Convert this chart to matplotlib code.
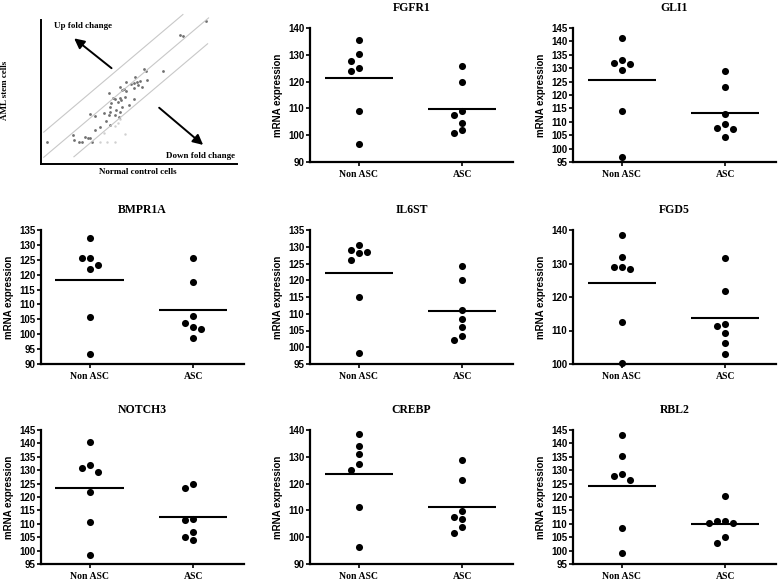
import numpy as np
import matplotlib
matplotlib.use("Agg")
import matplotlib.pyplot as plt

plt.rcParams['font.family'] = ['Liberation Sans', 'DejaVu Sans']

# ---- schematic panel (top-left) ----
normal_x = [3.1, 16.3, 16.7, 19.2, 20.9, 22.3, 23.8, 25.2, 26.0, 24.8, 27.4, 27.7, 30.3,
            32.0, 33.3, 34.5, 35.4, 35.4, 35.9, 34.9, 36.7, 37.9, 39.3, 40.1, 41.0, 38.4,
            40.0, 40.5, 41.3, 40.1, 41.3, 42.2, 43.5, 43.5, 44.7, 45.9, 47.3, 47.6, 48.1,
            49.0, 49.5, 50.3, 51.5, 52.4, 53.6, 54.1, 47.3, 43.0, 62.2, 70.7, 72.4, 84.2,
            37.9, 35.4]
aml_y = [15.5, 20.1, 16.7, 15.5, 15.5, 18.5, 17.8, 17.8, 15.5, 34.7, 33.3, 23.6, 25.5,
         35.2, 30.1, 34.0, 27.1, 39.4, 42.6, 49.1, 46.1, 45.1, 43.3, 46.1, 44.4, 37.5,
         32.9, 36.3, 39.8, 53.2, 51.4, 51.9, 57.2, 50.9, 41.0, 55.6, 56.0, 53.0, 60.6,
         57.2, 54.9, 57.9, 53.2, 66.0, 64.6, 58.3, 44.9, 46.8, 64.6, 89.6, 88.9, 99.5,
         34.0, 36.3]
faint_x = [37.9, 39.1, 40.5, 43.0, 30.3, 33.7, 37.9, 32.0]
faint_y = [26.4, 28.7, 31.0, 20.8, 15.5, 15.5, 15.5, 21.3]
diag_slope = 1.15
diag_offsets = [20.5, 3.07, -14.3]
diag_xrange = [(1.4, 72.4), (1.4, 85.5), (16.8, 85.0)]

# ---- gene panels ----
genes = ['FGFR1', 'GLI1', 'BMPR1A', 'IL6ST', 'FGD5', 'NOTCH3', 'CREBP', 'RBL2']
groups = ['Non ASC', 'ASC']

non_asc = {
    'FGFR1': [135.4, 130.4, 127.7, 124.1, 125.1, 109.2, 96.6],
    'GLI1': [141.3, 132.0, 133.2, 131.6, 129.5, 113.9, 97.0],
    'BMPR1A': [132.4, 125.5, 125.5, 121.9, 123.1, 105.8, 93.2],
    'IL6ST': [130.6, 128.4, 129.1, 128.2, 126.1, 115.0, 98.2],
    'FGD5': [138.6, 131.9, 129.1, 128.3, 129.1, 112.5, 100.4],
    'NOTCH3': [140.4, 131.0, 131.8, 129.5, 121.9, 110.8, 98.5],
    'CREBP': [138.6, 134.1, 131.1, 127.4, 124.9, 111.3, 96.5],
    'RBL2': [143.3, 135.4, 128.6, 127.8, 126.5, 108.4, 99.1],
}
asc = {
    'FGFR1': [125.7, 119.7, 109.0, 107.5, 104.7, 100.7, 101.9],
    'GLI1': [128.9, 123.0, 112.8, 109.0, 107.4, 104.2, 107.8],
    'BMPR1A': [125.5, 117.4, 106.1, 103.9, 102.5, 101.6, 98.8],
    'IL6ST': [124.4, 120.1, 111.0, 108.4, 106.1, 102.3, 103.3],
    'FGD5': [131.6, 121.7, 111.9, 111.4, 109.3, 106.4, 103.0],
    'NOTCH3': [123.5, 124.8, 111.9, 111.6, 106.9, 103.9, 105.0],
    'CREBP': [128.8, 121.2, 109.7, 107.5, 106.9, 103.8, 101.5],
    'RBL2': [120.5, 110.9, 110.2, 110.2, 110.9, 105.2, 102.7],
}
y_ranges = {
    'FGFR1': (90, 140, 10), 'GLI1': (95, 145, 5), 'BMPR1A': (90, 135, 5),
    'IL6ST': (95, 135, 5), 'FGD5': (100, 140, 10), 'NOTCH3': (95, 145, 5),
    'CREBP': (90, 140, 10), 'RBL2': (95, 145, 5),
}

W, H = 778, 583
fig = plt.figure(figsize=(W / 100, H / 100), dpi=100)

col_left = [41, 310, 573]
row_top = [28, 230, 430]
ax_w, ax_h = 203, 134
XLIM = (-0.47, 1.49)


def rect(left, top, w, h):
    return [left / W, 1 - (top + h) / H, w / W, h / H]


def swarm(vals, px_per_x, px_per_y, diam=7.5, step=8):
    """simple beeswarm: offsets in data units"""
    order = np.argsort(vals)[::-1]
    placed = []
    offs = np.zeros(len(vals))
    for i in order:
        yp = vals[i] * px_per_y
        for k in [0, -1, 1, -2, 2, -3, 3]:
            xp = k * step
            if all(np.hypot(xp - a, yp - b) >= diam for a, b in placed):
                break
        placed.append((xp, yp))
        offs[i] = xp / px_per_x
    return offs


# schematic
ax0 = fig.add_axes(rect(41, 13.3, 196, 150.7))
ax0.set_xlim(0, 100)
ax0.set_ylim(0, 104.6)
for c, (xa, xb) in zip(diag_offsets, diag_xrange):
    xs = np.array([xa, xb])
    ax0.plot(xs, diag_slope * xs + c, color='#c8c8c8', lw=0.8)
ax0.scatter(faint_x, faint_y, s=3, color='#d0d0d0', lw=0)
ax0.scatter(normal_x, aml_y, s=4, color='#707070', lw=0)
ax0.annotate('', xy=(15.8, 88.4), xytext=(37.1, 65.3),
             arrowprops=dict(arrowstyle='-|>,head_length=0.6,head_width=0.3', color='black', lw=1.4))
ax0.annotate('', xy=(83.8, 12.0), xytext=(59.2, 40.3),
             arrowprops=dict(arrowstyle='-|>,head_length=0.6,head_width=0.3', color='black', lw=1.4))
ax0.text(6.5, 95.8, 'Up fold change', family='Liberation Serif', fontweight='bold',
         fontsize=6.5, va='center', ha='left')
ax0.text(99.1, 5.8, 'Down fold change', family='Liberation Serif', fontweight='bold',
         fontsize=6.5, va='center', ha='right')
ax0.set_xticks([])
ax0.set_yticks([])
for s in ['top', 'right']:
    ax0.spines[s].set_visible(False)
for s in ['left', 'bottom']:
    ax0.spines[s].set_linewidth(1.4)
ax0.spines['left'].set_bounds(0, 100)
fig.text(138 / W, 1 - 172 / H, 'Normal control cells', family='Liberation Serif',
         fontweight='bold', fontsize=6.5, ha='center', va='center')
fig.text(5 / W, 1 - 90 / H, 'AML stem cells', family='Liberation Serif',
         fontweight='bold', fontsize=6.5, ha='center', va='center', rotation=90)

# gene panels
slots = [(0, 1), (0, 2), (1, 0), (1, 1), (1, 2), (2, 0), (2, 1), (2, 2)]
for gene, (r, c) in zip(genes, slots):
    ax = fig.add_axes(rect(col_left[c], row_top[r], ax_w, ax_h))
    ymin, ymax, ystep = y_ranges[gene]
    ax.set_xlim(*XLIM)
    ax.set_ylim(ymin, ymax)
    px_x = ax_w / (XLIM[1] - XLIM[0])
    px_y = ax_h / (ymax - ymin)
    for pos, data in enumerate([non_asc[gene], asc[gene]]):
        vals = np.array(data)
        offs = swarm(vals, px_x, px_y)
        ax.scatter(pos + offs, vals, s=26, color='black', lw=0, zorder=3, clip_on=False)
        ax.hlines(vals.mean(), pos - 0.33, pos + 0.33, color='black', lw=1.5)
    ax.set_yticks(np.arange(ymin, ymax + 0.1, ystep))
    ax.set_xticks([0, 1])
    ax.set_xticklabels(groups, family='Liberation Serif', fontweight='bold', fontsize=7)
    for lab in ax.get_yticklabels():
        lab.set_fontweight('bold')
        lab.set_fontsize(7)
    ax.tick_params(axis='y', length=3, width=1.2, pad=1.2, direction='out')
    ax.tick_params(axis='x', length=3, width=1.2, pad=3, direction='out')
    for s in ['top', 'right']:
        ax.spines[s].set_visible(False)
    for s in ['left', 'bottom']:
        ax.spines[s].set_linewidth(1.6)
    ax.set_ylabel('mRNA expression', fontweight='bold', fontsize=7)
    ax.yaxis.set_label_coords(-0.135, 0.5)
    ax.text(0.5, 1 + 20 / ax_h, gene, transform=ax.transAxes, ha='center', va='center',
            family='Liberation Serif', fontweight='bold', fontsize=8.5)

fig.savefig('out.png', dpi=100)
